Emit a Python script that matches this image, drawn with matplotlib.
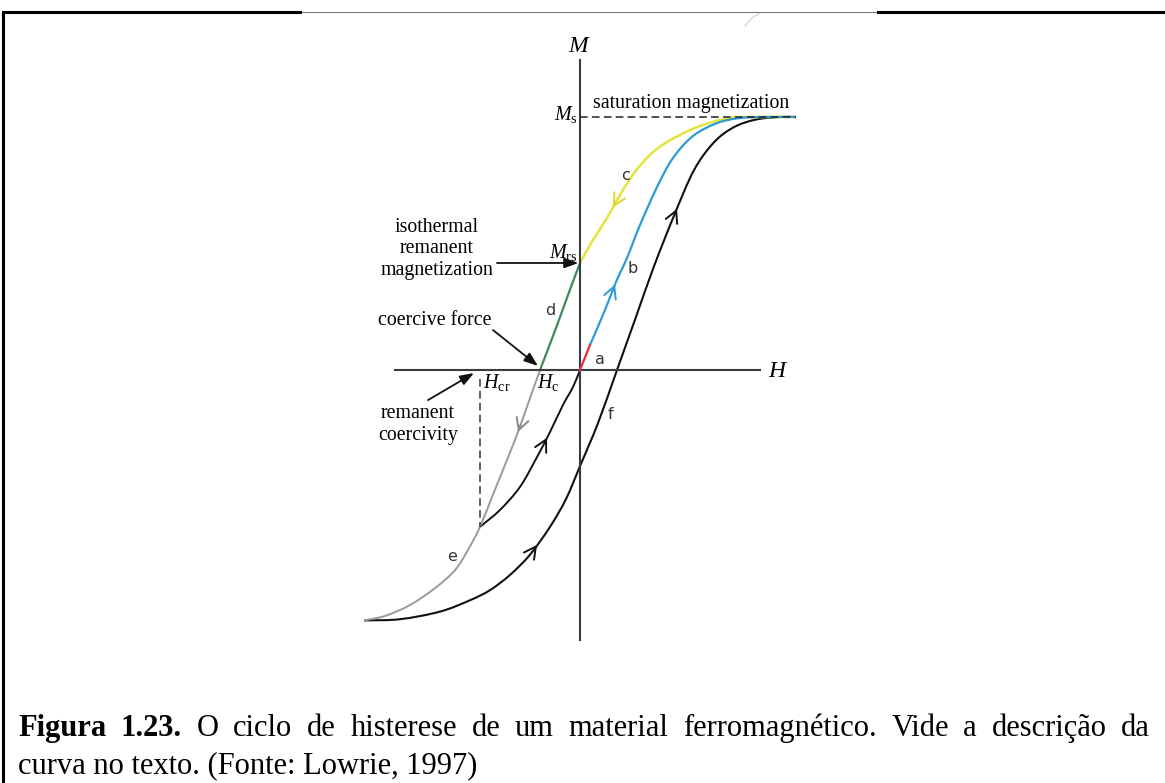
import numpy as np
import matplotlib.pyplot as plt
from matplotlib.lines import Line2D
from matplotlib.path import Path
from matplotlib.patches import PathPatch

plt.rcParams['mathtext.fontset'] = 'custom'
plt.rcParams['mathtext.rm'] = 'Liberation Serif'
plt.rcParams['mathtext.it'] = 'Liberation Serif:italic'

# field H (arbitrary units, Hc = -1) and magnetization M (units of Ms)
Ms = 1.0
Mrs = 0.423
Hc = -1.0
Hcr = -2.5

# f: main branch from -Ms back up to +Ms
f_H = [-5.4, -4.5, -3.5, -2.75, -2.25, -1.75, -1.25, -0.75, -0.35, 0.0, 0.45,
       0.925, 1.4, 1.85, 2.35, 2.85, 3.35, 3.85, 4.4, 5.0, 5.4]
f_M = [-0.99, -0.985, -0.955, -0.91, -0.87, -0.81, -0.73, -0.62, -0.51, -0.38,
       -0.21, 0.0, 0.21, 0.41, 0.61, 0.79, 0.90, 0.96, 0.99, 1.0, 1.0]

# a + b: initial magnetization curve
a_H = [0.0, 0.25]
a_M = [0.0, 0.099]
b_H = [0.25, 0.625, 0.9, 1.175, 1.5, 1.925, 2.325, 2.825, 3.425, 4.0, 4.625, 5.4]
b_M = [0.099, 0.237, 0.348, 0.443, 0.573, 0.723, 0.838, 0.925, 0.976, 0.996, 1.0, 1.0]

# c: field removed, Ms -> Mrs
c_H = [5.4, 4.575, 3.75, 2.925, 2.175, 1.75, 1.375, 1.0, 0.675, 0.325, 0.0]
c_M = [1.0, 1.0, 0.996, 0.96, 0.901, 0.85, 0.783, 0.692, 0.601, 0.514, 0.423]

# d: reverse field, Mrs -> Hc
d_H = [0.0, -0.25, -0.5, -0.75, -1.0]
d_M = [0.423, 0.318, 0.209, 0.103, 0.0]

# e: continued reverse field down to -Ms
e_H = [-1.0, -1.25, -1.55, -1.875, -2.2, -2.5, -2.8, -3.125, -3.625, -4.25, -4.875, -5.4]
e_M = [0.0, -0.111, -0.245, -0.375, -0.502, -0.62, -0.711, -0.791, -0.862, -0.929, -0.972, -0.99]

# recoil from Hcr back to the origin
r_H = [-2.5, -2.0, -1.5, -1.075, -0.75, -0.425, -0.175, 0.0]
r_M = [-0.62, -0.553, -0.462, -0.344, -0.245, -0.138, -0.067, 0.0]

caption1 = [("Figura", "bold"), ("1.23.", "bold")] + \
    [(w, "normal") for w in "O ciclo de histerese de um material ferromagnético. Vide a descrição da".split()]
caption2 = "curva no texto. (Fonte: Lowrie, 1997)"

W, Hpx = 1165, 783
fig = plt.figure(figsize=(W / 100, Hpx / 100), dpi=100)
ax = fig.add_axes([0, 0, 1, 1])
ax.set_xlim(-14.5, 14.625)
ax.set_ylim(-1.6324, 1.4625)
ax.axis('off')


def smooth(hs, ms, **kw):
    # Catmull-Rom through the points, drawn as cubic Bezier segments
    p = np.column_stack([hs, ms]).astype(float)
    ext = np.vstack([2 * p[0] - p[1], p, 2 * p[-1] - p[-2]])
    verts = [p[0]]
    codes = [Path.MOVETO]
    for i in range(1, len(ext) - 2):
        p0, p1, p2, p3 = ext[i - 1], ext[i], ext[i + 1], ext[i + 2]
        verts += [p1 + (p2 - p0) / 6, p2 - (p3 - p1) / 6, p2]
        codes += [Path.CURVE4] * 3
    ax.add_patch(PathPatch(Path(verts, codes), fill=False, **kw))


axis_col = '#3a3a44'
ax.plot([-4.625, 4.5], [0, 0], color=axis_col, lw=1.5)
ax.plot([0, 0], [-1.067, 1.225], color=axis_col, lw=1.5)

ax.plot([0, 5.4], [Ms, Ms], color='#222222', lw=1.1, ls=(0, (5, 2.8)))
ax.plot([Hcr, Hcr], [-0.035, -0.62], color='#333333', lw=1.1, ls=(0, (5, 2.8)))

smooth(f_H, f_M, edgecolor='#111111', lw=1.5)
smooth(r_H, r_M, edgecolor='#111111', lw=1.4)
smooth(e_H, e_M, edgecolor='#9a9a9a', lw=1.4)
smooth(d_H, d_M, edgecolor='#3d8a5c', lw=1.6)
smooth(c_H, c_M, edgecolor='#e4e43a', lw=1.8)
smooth(b_H, b_M, edgecolor='#2c9bd6', lw=1.6)
ax.plot(a_H, a_M, color='#e03434', lw=1.6)


def chevron(hs, ms, h0, step, color):
    hs = np.asarray(hs)
    ms = np.asarray(ms)
    order = np.argsort(hs)
    m0 = np.interp(h0, hs[order], ms[order])
    hb = h0 - step
    mb = np.interp(hb, hs[order], ms[order])
    ax.annotate('', xy=(h0, m0), xytext=(hb, mb),
                arrowprops=dict(arrowstyle='->,head_length=0.6,head_width=0.32',
                                color=color, lw=1.4, shrinkA=0, shrinkB=0,
                                mutation_scale=14))


chevron(c_H, c_M, 0.825, -0.06, '#d8d830')
chevron(b_H, b_M, 0.875, 0.06, '#2c9bd6')
chevron(f_H, f_M, 2.425, 0.06, '#111111')
chevron(f_H, f_M, -1.075, 0.06, '#111111')
chevron(r_H, r_M, -0.825, 0.06, '#111111')
chevron(e_H, e_M, -1.55, -0.06, '#8a8a8a')

serif = 'Liberation Serif'
lab_size = 14.3
ax.text(0, 1.285, '$M$', fontsize=17, ha='center', va='center')
ax.text(4.7, 0, '$H$', fontsize=17, ha='left', va='center')
ax.text(-0.05, 1.008, r'$M_{\mathrm{s}}$', fontsize=14.5, ha='right', va='center')
ax.text(0.33, 1.055, 'saturation magnetization', fontsize=lab_size, family=serif,
        ha='left', va='center')
ax.text(-0.05, 0.466, r'$M_{\mathrm{rs}}$', fontsize=14.5, ha='right', va='center')
for txt, m in [('isothermal', 0.565), ('remanent', 0.482), ('magnetization', 0.395)]:
    ax.text(-3.575, m, txt, fontsize=lab_size, family=serif, ha='center', va='center')
ax.text(-3.625, 0.194, 'coercive force', fontsize=lab_size, family=serif,
        ha='center', va='center')
ax.text(-4.05, -0.170, 'remanent', fontsize=lab_size, family=serif, ha='center', va='center')
ax.text(-4.05, -0.257, 'coercivity', fontsize=lab_size, family=serif, ha='center', va='center')
ax.text(Hcr + 0.08, -0.05, r'$H_{\mathrm{cr}}$', fontsize=14.5, ha='left', va='center')
ax.text(Hc - 0.07, -0.05, r'$H_{\mathrm{c}}$', fontsize=14.5, ha='left', va='center')

pointer = dict(arrowstyle='-|>,head_length=0.6,head_width=0.22', color='#111111',
               lw=1.3, shrinkA=0, shrinkB=0, mutation_scale=14)
ax.annotate('', xy=(-0.04, Mrs), xytext=(-2.075, Mrs), arrowprops=pointer)
ax.annotate('', xy=(Hc - 0.05, 0.016), xytext=(-2.175, 0.158), arrowprops=pointer)
ax.annotate('', xy=(Hcr - 0.15, -0.012), xytext=(-3.8, -0.119), arrowprops=pointer)

for lab, h, m in [('a', 0.5, 0.04), ('b', 1.325, 0.403), ('c', 1.125, 0.767),
                  ('d', -0.75, 0.237), ('e', -3.2, -0.739), ('f', 0.75, -0.174)]:
    ax.text(h, m, lab, fontsize=11.5, family='DejaVu Sans', color='#333333',
            ha='center', va='center')


# page frame
def fx(x):
    return x / W


def fy(y):
    return 1 - y / Hpx


fig.add_artist(Line2D([fx(3), fx(1165)], [fy(12), fy(12)], color='#777777', lw=0.8))
fig.add_artist(Line2D([fx(3), fx(300)], [fy(12), fy(12)], color='black', lw=2.2))
fig.add_artist(Line2D([fx(878), fx(1165)], [fy(12), fy(12)], color='black', lw=2.2))
fig.add_artist(Line2D([fx(3), fx(3)], [fy(12), fy(783)], color='black', lw=2.2))
fig.add_artist(Line2D([fx(745), fx(752), fx(760)], [fy(26), fy(18), fy(13)],
                      color='#cccccc', lw=0.8))

# caption, first line justified between x=18 and x=1150
fig.canvas.draw()
rend = fig.canvas.get_renderer()
cap_size = 22
tokens = []
for word, weight in caption1:
    t = fig.text(0, fy(736), word, fontsize=cap_size, family=serif, weight=weight,
                 ha='left', va='baseline')
    tokens.append(t)
widths = [t.get_window_extent(rend).width for t in tokens]
gap = (1150 - 18 - sum(widths)) / (len(tokens) - 1)
x = 18
for t, w in zip(tokens, widths):
    t.set_x(fx(x))
    x += w + gap
fig.text(fx(18), fy(773), caption2, fontsize=cap_size, family=serif,
         ha='left', va='baseline')

fig.savefig('out.png', dpi=100, facecolor='white')
